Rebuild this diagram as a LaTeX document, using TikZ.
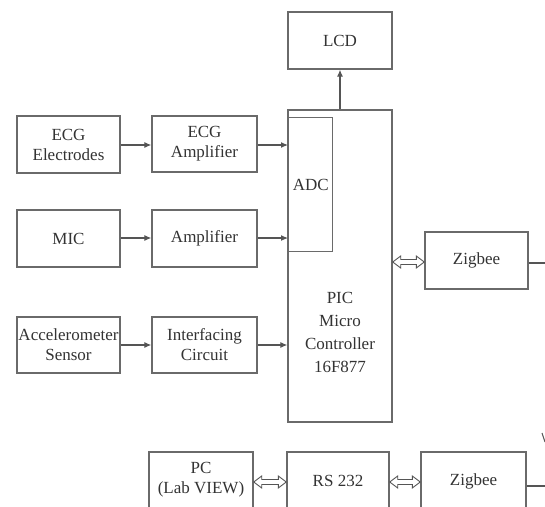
\documentclass[tikz,border=0pt]{standalone}
\usepackage{fontspec}
\setmainfont{Liberation Serif}
\usetikzlibrary{arrows.meta,calc}
\definecolor{linegray}{HTML}{555555}
\definecolor{boxgray}{HTML}{6A6A6A}
\definecolor{txtgray}{HTML}{333333}
\tikzset{
  blk/.style={draw=boxgray, line width=1.4pt, fill=white, inner sep=0pt,
    minimum width=#1, minimum height=57pt, align=center, text=txtgray,
    font=\fontsize{17}{20}\selectfont},
  blk/.default=103pt,
  lbl/.style={inner sep=0pt, align=center, text=txtgray,
    font=\fontsize{17}{23}\selectfont},
  sig/.style={draw=linegray, line width=1.1pt, -{Latex[length=7pt,width=6pt]}},
  busline/.style={draw=linegray, line width=0.9pt, fill=white, line join=miter},
  wire/.style={draw=linegray, line width=1.4pt},
}
% hollow double-headed arrow between two points on one horizontal line
\newcommand{\hollowarrow}[2]{%
  \path[busline] let \p1=#1, \p2=#2 in
    (\x1,\y1) -- (\x1+8pt,\y1+6pt) -- (\x1+8pt,\y1+2.5pt) -- (\x2-8pt,\y1+2.5pt)
    -- (\x2-8pt,\y1+6pt) -- (\x2,\y1) -- (\x2-8pt,\y1-6pt) -- (\x2-8pt,\y1-2.5pt)
    -- (\x1+8pt,\y1-2.5pt) -- (\x1+8pt,\y1-6pt) -- cycle;}
\begin{document}
\begin{tikzpicture}[x=1pt,y=-1pt]
\useasboundingbox (0,0) rectangle (545,506);
\clip (0,0) rectangle (545,506);
\fill[white] (0,0) rectangle (545,506);
% left column
\node[blk] (ecgE) at (68.5,144.5) {ECG\\Electrodes};
\node[blk] (mic) at (68.5,238.5) {MIC};
\node[blk, minimum height=56pt] (acc) at (68.5,345) {Accelerometer\\Sensor};
% middle column
\node[blk=105pt, minimum height=56pt] (ecgA) at (204.5,144) {ECG\\Amplifier};
\node[blk=105pt] (amp) at (204.5,238.5) {Amplifier};
\node[blk=105pt, minimum height=56pt] (intf) at (204.5,345) {Interfacing\\Circuit};
% microcontroller
\node[blk=104pt, minimum height=312pt] (mcu) at (340,266) {};
\node[lbl] (mcutext) at (340,332) {PIC\\Micro\\Controller\\16F877};
\node[blk=44pt, minimum height=134pt, anchor=north west] (adc) at (288,117) {ADC};
\node[blk=104pt] (lcd) at (340,40.5) {LCD};
\node[blk=103pt] (zigA) at (476.5,260.5) {Zigbee};
% bottom row
\node[blk=104pt, minimum height=58pt] (pc) at (201,481) {};
\node[lbl, font=\fontsize{17}{20}\selectfont] (pctext) at (201,480) {PC\\(Lab VIEW)};
\node[blk=102pt, minimum height=58pt] (rs) at (338,481) {RS 232};
\node[blk=105pt, minimum height=58pt] (zigB) at (473.5,481) {Zigbee};
% free ends
\coordinate (endA) at (560,263);
\coordinate (endB) at (560,486);
% signals
\draw[sig] (ecgE.east |- 0,145) -- (ecgA.west |- 0,145);
\draw[sig] (ecgA.east |- 0,145) -- (adc.west |- 0,145);
\draw[sig] (mic.east |- 0,238) -- (amp.west |- 0,238);
\draw[sig] (amp.east |- 0,238) -- (adc.west |- 0,238);
\draw[sig] (acc.east |- 0,345) -- (intf.west |- 0,345);
\draw[sig] (intf.east |- 0,345) -- (mcu.west |- 0,345);
\draw[sig] (mcu.north) -- (lcd.south);
% buses
\hollowarrow{(mcu.east |- 0,262)}{(zigA.west |- 0,262)}
\hollowarrow{(pc.east |- 0,482)}{(rs.west |- 0,482)}
\hollowarrow{(rs.east |- 0,482)}{(zigB.west |- 0,482)}
% wires to the right edge
\draw[wire] (zigA.east |- 0,263) -- (endA);
\draw[wire] (zigB.east |- 0,486) -- (endB);
\draw[wire, line width=1pt] (542,433) -- (545,442);
\end{tikzpicture}
\end{document}
